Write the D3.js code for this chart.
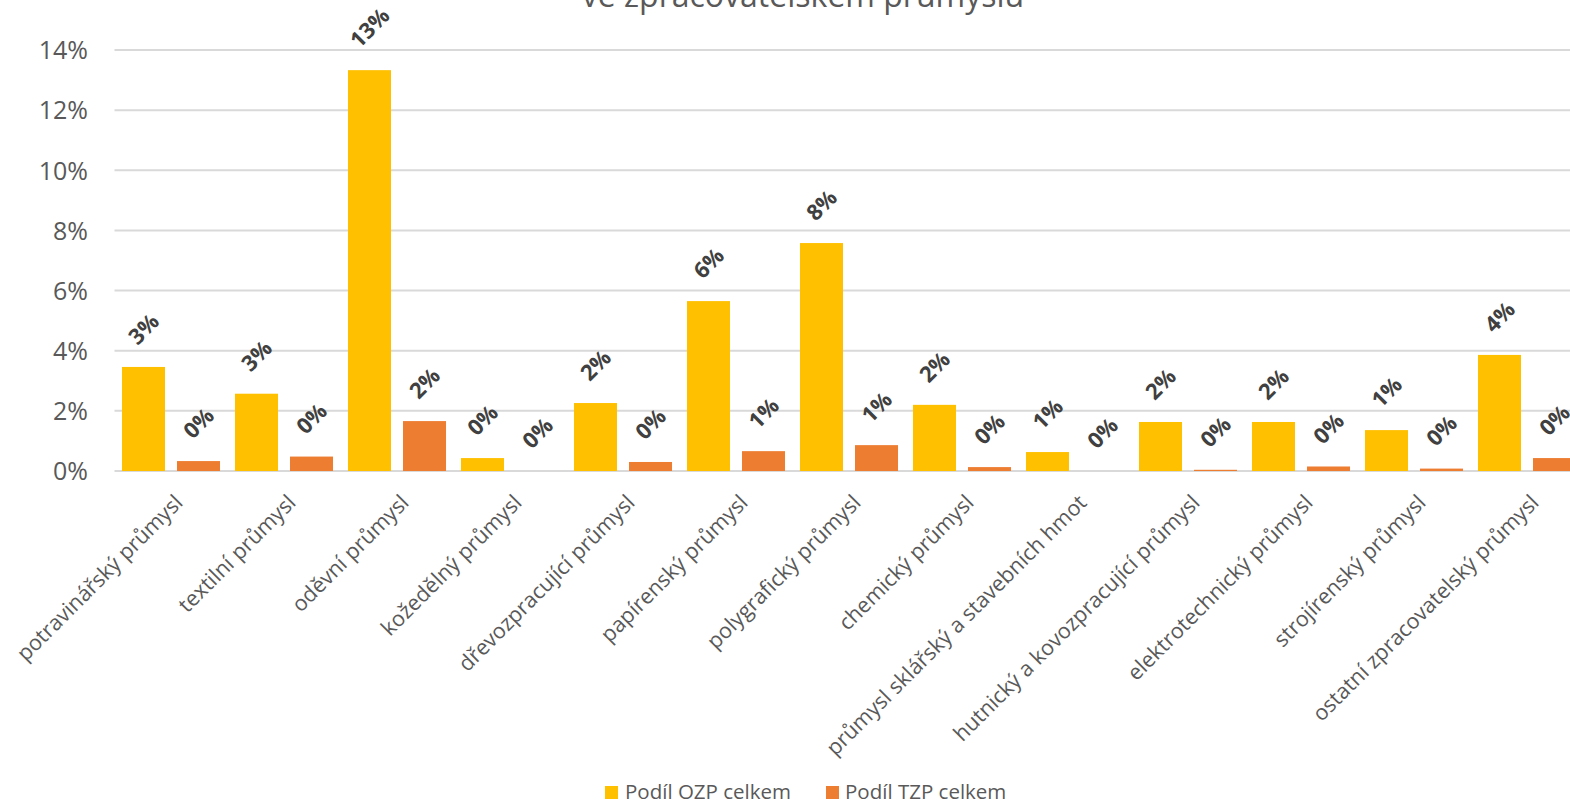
<!DOCTYPE html>
<html>
<head>
<meta charset="utf-8">
<script src="https://cdn.jsdelivr.net/npm/d3@7"></script>
<style>
  html, body { margin: 0; padding: 0; background: #fff; }
  svg { display: block; font-family: "Open Sans", "Noto Sans", sans-serif; }
</style>
</head>
<body>
<svg id="chart" width="1570" height="803"></svg>
<script>
const categories = [
  "potravinářský průmysl", "textilní průmysl", "oděvní průmysl", "kožedělný průmysl",
  "dřevozpracující průmysl", "papírenský průmysl", "polygrafický průmysl", "chemický průmysl",
  "průmysl sklářský a stavebních hmot", "hutnický a kovozpracující průmysl",
  "elektrotechnický průmysl", "strojírenský průmysl", "ostatní zpracovatelský průmysl"
];
const seriesNames = ["Podíl OZP celkem", "Podíl TZP celkem"];
const ozpValues = [3.46, 2.57, 13.33, 0.43, 2.26, 5.65, 7.58, 2.20, 0.63, 1.63, 1.63, 1.36, 3.86];
const tzpValues = [0.33, 0.48, 1.66, 0.00, 0.30, 0.66, 0.86, 0.13, 0.00, 0.04, 0.15, 0.08, 0.43];
const yTicks = [0, 2, 4, 6, 8, 10, 12, 14];
const titleText = "ve zpracovatelském průmyslu";
const colors = ["#FFC000", "#ED7D31"];

const svg = d3.select("#chart");
const W = 1570, H = 803;

const plotLeft = 114.5, plotRight = 1583.5, plotTop = 50, plotBottom = 471;

const x0 = d3.scaleBand().domain(categories).range([plotLeft, plotRight]).padding(0);
const x1 = d3.scaleBand().domain(seriesNames).range([0, x0.bandwidth()])
  .paddingInner(12 / 55).paddingOuter(0.136);
const y = d3.scaleLinear().domain([0, 14]).range([plotBottom, plotTop]);

const data = categories.map((c, i) => ({
  cat: c,
  vals: [
    { s: seriesNames[0], v: ozpValues[i], ci: 0 },
    { s: seriesNames[1], v: tzpValues[i], ci: 1 }
  ]
}));

// Title (only the second line is visible in the crop)
svg.append("text")
  .attr("x", 803).attr("y", 7)
  .attr("text-anchor", "middle")
  .attr("font-size", 32)
  .attr("fill", "#595959")
  .text(titleText);

// Gridlines
svg.append("g").selectAll("line").data(yTicks).join("line")
  .attr("x1", plotLeft).attr("x2", W)
  .attr("y1", d => y(d)).attr("y2", d => y(d))
  .attr("stroke", "#d9d9d9").attr("stroke-width", 2);

// Y axis labels via d3 axis
const yAxis = d3.axisLeft(y).tickValues(yTicks).tickFormat(d => d + "%").tickSize(0).tickPadding(0);
const gy = svg.append("g").attr("transform", "translate(88,0)").call(yAxis);
gy.select(".domain").remove();
gy.selectAll("text").attr("font-size", 25).attr("fill", "#595959")
  .attr("font-family", "'Open Sans', sans-serif").attr("dy", "0.35em");

// Bars
const groups = svg.append("g").selectAll("g").data(data).join("g")
  .attr("transform", d => `translate(${x0(d.cat)},0)`);

groups.selectAll("rect").data(d => d.vals).join("rect")
  .attr("x", d => x1(d.s))
  .attr("width", x1.bandwidth())
  .attr("y", d => y(d.v))
  .attr("height", d => y(0) - y(d.v))
  .attr("fill", d => colors[d.ci]);

// Data labels
groups.selectAll("text").data(d => d.vals).join("text")
  .attr("font-size", 22)
  .attr("font-weight", "bold")
  .attr("fill", "#404040")
  .attr("text-anchor", "start")
  .text(d => Math.round(d.v) + "%")
  .each(function(d) {
    const L = this.getComputedTextLength();
    const h = 16;
    const cx = x1(d.s) + x1.bandwidth() / 2;
    const px = cx - (L - h) / 2 * 0.7071;
    const py = y(d.v) - 21;
    d3.select(this).attr("transform", `translate(${px},${py}) rotate(-45)`);
  });

// X axis labels
const xAxis = d3.axisBottom(x0).tickSize(0).tickPadding(0);
const gx = svg.append("g").call(xAxis);
gx.select(".domain").remove();
gx.selectAll(".tick").attr("transform", null);
gx.selectAll(".tick text")
  .attr("font-size", 21.5)
  .attr("font-family", "'Open Sans', sans-serif")
  .attr("fill", "#595959")
  .attr("text-anchor", "end")
  .attr("dy", null).attr("y", null)
  .attr("transform", d => `translate(${x0(d) + x0.bandwidth() / 2 + 13},504) rotate(-45)`);

// Legend
const legend = svg.append("g");
const legendItems = [
  { name: seriesNames[0], color: colors[0], rx: 605, tx: 625 },
  { name: seriesNames[1], color: colors[1], rx: 826, tx: 845 }
];
legend.selectAll("rect").data(legendItems).join("rect")
  .attr("x", d => d.rx).attr("y", 786).attr("width", 13).attr("height", 13)
  .attr("fill", d => d.color);
legend.selectAll("text").data(legendItems).join("text")
  .attr("x", d => d.tx).attr("y", 799)
  .attr("font-size", 20.5).attr("fill", "#595959")
  .text(d => d.name);
</script>
</body>
</html>
